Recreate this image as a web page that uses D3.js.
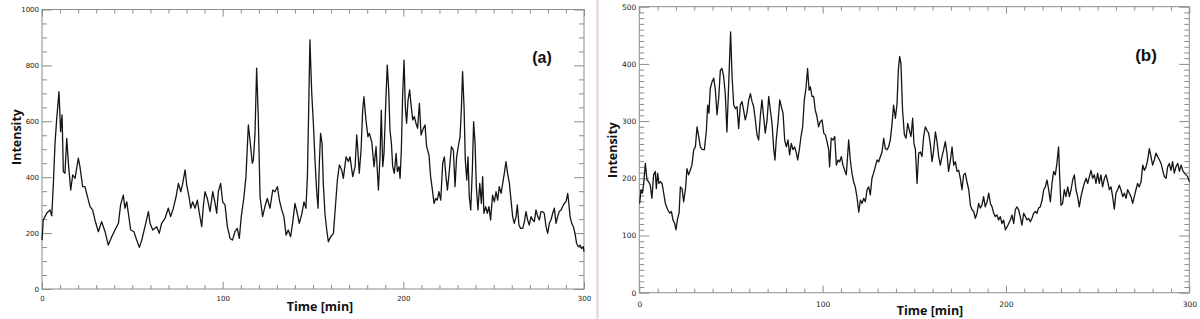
<!doctype html>
<html>
  <head>
    <script src="https://cdnjs.cloudflare.com/ajax/libs/d3/7.8.5/d3.min.js"></script>
    <style>
      body { margin: 0; background: #fff; }
      svg { display: block; }
      .tick text { font-family: "DejaVu Sans", sans-serif; fill: #222; }
      .ttl { font-family: "Open Sans", sans-serif; font-weight: bold; fill: #111; }
      .tag { font-family: "Liberation Sans", Arial, sans-serif; font-weight: bold; fill: #111; }
    </style>
  </head>
  <body>
    <svg id="chart" width="1200" height="319"></svg>
    <script>
        // panel (a)
        var timeA = [0,0.7,2.6,4.4,5.4,6.3,7.2,8.1,9.4,10.3,11.1,11.8,12.7,13.7,14.6,15.9,17.0,18.3,20.1,21.0,22.5,23.8,24.7,26.6,28.0,29.3,31.2,33.0,34.9,36.7,38.6,40.4,42.3,43.5,45.0,45.9,46.9,47.8,49.1,50.9,52.4,53.9,55.2,57.0,58.9,59.8,61.3,63.5,64.9,66.2,68.1,69.9,71.2,72.7,74.2,75.5,76.8,77.9,79.2,80.1,81.4,82.3,83.4,84.7,86.0,87.1,88.4,89.3,90.2,91.5,93.0,94.5,95.8,96.7,97.6,98.9,100.0,101.3,102.6,104.1,105.4,106.8,108.1,109.2,110.3,111.8,112.9,114.2,115.1,116.4,117.0,117.9,118.8,119.7,120.7,122.1,123.4,124.7,126.2,127.7,128.9,130.3,131.4,132.7,133.9,135.1,136.3,137.6,138.7,140.0,141.3,142.4,143.7,145.0,146.1,146.9,147.6,148.3,
            149.3,150.2,151.1,152.0,152.8,153.5,154.2,155.0,155.7,156.6,157.6,158.5,159.8,161.3,162.4,163.5,164.6,165.9,166.8,168.3,169.6,170.5,172.0,173.3,174.2,174.7,175.6,176.6,177.5,178.2,179.3,180.4,181.2,182.5,183.8,184.9,186.2,187.1,187.8,188.6,189.3,190.4,191.1,191.9,192.6,193.4,194.1,195.0,196.0,196.7,197.6,198.2,198.9,199.6,200.4,201.1,201.8,202.6,203.5,204.2,205.2,206.1,207.0,207.9,208.9,209.8,210.7,212.0,212.9,214.2,215.1,216.1,217.0,217.9,218.8,219.7,220.7,221.8,222.7,223.6,224.4,225.5,226.6,227.7,228.6,229.5,230.4,231.4,232.1,232.8,233.6,234.3,235.1,235.8,236.5,237.3,238.2,238.9,239.7,240.4,241.3,242.3,243.2,243.9,244.6,245.6,246.5,247.4,248.3,249.4,250.4,251.3,252.2,253.1,254.1,255.0,255.9,256.8,257.7,258.7,259.6,260.5,261.4,262.4,263.1,264.0,264.9,266.1,267.0,267.9,268.8,269.7,270.7,271.6,272.5,273.4,274.4,275.3,276.2,277.1,278.0,279.0,279.9,280.8,281.7,282.7,283.6,284.5,285.4,286.3,287.3,288.2,289.1,290.0,291.0,291.5,292.3,293.2,294.1,295.0,295.9,296.9,297.8,298.7,299.6,300];
        var intensityA = [175,247,271,283,262,378,521,605,706,563,623,420,414,539,450,354,408,396,468,438,366,366,342,295,283,247,205,241,205,157,187,211,235,301,336,289,312,271,211,205,175,149,175,223,277,235,211,223,199,235,253,289,259,289,330,378,348,378,426,372,330,289,312,289,318,271,223,295,348,324,277,348,306,271,348,378,312,301,223,181,175,205,217,181,259,330,402,587,533,450,462,557,790,617,330,259,295,324,289,354,348,366,318,283,259,193,211,187,235,306,271,235,265,312,289,402,640,891,
            700,593,462,354,289,450,557,521,378,271,211,169,187,199,295,390,444,426,396,473,456,473,402,438,551,509,414,497,640,688,605,545,557,527,438,509,354,473,640,438,485,688,801,712,569,521,438,414,485,420,438,396,497,688,819,652,593,676,712,664,605,617,593,575,664,551,569,587,509,479,402,354,306,324,318,348,318,450,473,402,354,426,509,497,366,473,509,545,640,778,652,462,390,473,330,283,426,599,521,366,283,378,306,402,271,295,271,295,247,336,312,348,318,366,342,378,414,456,414,378,318,259,235,259,301,229,217,217,241,277,247,229,259,247,241,283,259,247,277,277,271,223,199,235,247,271,289,235,259,277,283,295,306,312,342,312,259,235,223,199,163,151,157,145,151,134];

        // panel (b)
        var timeB = [0.2,0.9,1.7,2.4,3.3,4.2,5.1,6.0,6.9,7.8,8.7,9.3,10.0,10.7,11.5,12.4,13.3,14.2,15.5,16.6,17.5,18.4,19.3,20.0,20.9,21.7,22.4,23.3,24.2,25.3,26.0,26.9,27.8,28.7,29.7,30.6,31.5,32.4,33.3,34.4,35.5,36.6,37.3,38.0,38.7,39.7,40.6,41.5,42.4,43.3,44.2,45.1,46.0,46.9,47.8,48.7,49.8,50.6,51.5,52.4,53.3,54.2,55.1,56.0,56.9,57.8,58.7,59.7,60.6,61.5,62.4,63.3,64.2,65.1,66.0,66.9,67.8,68.7,69.7,70.6,71.5,72.4,73.3,74.0,74.7,75.7,76.6,77.5,78.4,79.3,80.2,81.1,82.0,82.9,83.8,84.7,85.7,86.4,87.3,88.2,89.1,90.0,90.9,91.8,92.6,93.3,94.2,95.1,96.0,96.9,97.8,98.7,99.7,100.6,101.5,102.4,103.3,103.8,104.7,105.7,106.6,107.5,108.4,109.3,110.2,111.1,112.0,112.9,113.7,114.2,115.1,116.0,116.9,117.8,118.7,119.7,120.6,121.5,122.4,123.3,124.2,125.1,126.0,126.9,127.8,128.7,129.7,130.6,131.5,132.4,133.3,134.2,135.1,136.0,136.9,137.8,138.7,139.7,140.6,141.3,142.0,142.7,143.6,144.6,145.5,146.4,147.3,148.2,149.1,149.8,
            150.6,151.5,152.4,153.3,154.2,155.1,156.0,156.9,157.8,158.7,159.7,160.6,161.5,162.4,163.3,164.2,165.1,166.0,166.9,167.8,168.7,169.7,170.6,171.5,172.4,173.3,174.2,175.1,176.0,176.9,177.8,178.7,179.7,180.6,181.5,182.4,183.3,184.2,185.1,186.0,186.9,187.8,188.7,189.7,190.6,191.5,192.4,193.3,194.2,195.1,196.0,196.9,197.8,198.7,199.7,200.6,201.5,202.4,203.3,204.2,205.1,206.0,206.9,207.8,208.7,209.7,210.6,211.5,212.4,213.3,214.2,215.1,216.0,216.9,217.8,218.7,219.7,220.6,221.5,222.4,223.3,224.2,225.1,226.0,226.9,227.8,228.7,229.3,230.0,230.9,231.8,232.7,233.7,234.6,235.5,236.4,237.3,238.2,239.1,240.0,240.9,241.8,242.7,243.7,244.6,245.5,246.4,247.3,248.2,249.1,250.0,250.9,251.8,252.7,253.7,254.6,255.5,256.4,257.3,258.2,259.1,260.0,260.9,261.8,262.7,263.7,264.6,265.5,266.4,267.3,268.2,269.1,270.0,270.9,271.8,272.7,273.7,274.6,275.5,276.4,277.3,278.2,279.1,280.0,280.9,281.8,282.7,283.7,284.6,285.5,286.4,287.3,288.2,289.1,290.0,290.9,291.8,292.7,293.7,294.6,295.5,296.4,297.3,298.2,299.1,300];
        var intensityB = [156,180,174,191,226,197,194,188,165,206,212,182,209,191,194,191,174,156,145,139,142,127,121,110,130,139,185,182,159,185,217,206,214,223,250,255,290,273,255,250,250,284,328,314,357,369,375,354,311,340,389,392,378,348,281,360,456,378,328,322,325,287,328,334,319,302,314,337,348,334,325,302,276,267,308,337,308,279,302,343,319,296,252,232,267,299,337,325,314,267,255,267,241,261,250,255,244,232,250,273,290,337,357,392,354,360,343,343,319,308,290,299,302,279,276,264,250,220,270,267,273,223,232,229,238,223,214,206,243,267,232,209,194,185,168,141,162,156,165,159,180,185,171,200,209,220,232,229,238,246,270,252,250,255,267,293,328,305,331,389,413,401,319,276,270,296,284,273,305,261,
            250,191,244,246,238,273,290,284,279,261,229,250,281,264,238,223,238,250,264,244,212,232,255,223,229,212,214,200,180,206,209,194,180,153,145,142,130,139,156,148,153,168,150,159,174,156,150,139,133,136,127,133,121,127,110,115,121,127,136,121,145,150,145,133,118,139,133,127,130,124,130,139,142,139,148,150,162,180,185,197,180,159,191,212,206,226,255,203,153,156,180,168,185,168,180,197,206,180,168,150,168,180,191,200,191,203,214,200,206,191,209,191,206,185,200,206,194,180,185,168,146,174,180,188,180,168,174,165,180,174,168,156,168,180,191,185,194,223,214,220,232,252,238,223,232,244,238,232,226,214,203,200,220,226,214,229,209,220,226,212,223,214,209,206,203,194];

        var xMajorTicks = [0, 100, 200, 300];
        var yMajorTicksA = [0, 200, 400, 600, 800, 1000];
        var yMajorTicksB = [0, 100, 200, 300, 400, 500];

        var svg = d3.select("#chart");

        // separator between the two pictures
        svg.append("line").attr("x1", 596.5).attr("x2", 596.5).attr("y1", 0).attr("y2", 319)
            .style("stroke", "#e2e2e2");
        svg.append("line").attr("x1", 598).attr("x2", 598).attr("y1", 0).attr("y2", 319)
            .style("stroke", "#f3dede").style("stroke-width", 2);

        function drawPanel(p){
            var x = d3.scaleLinear().domain([0, 300]).range([p.left, p.right]);
            var y = d3.scaleLinear().domain([0, p.yMax]).range([p.bottom, p.top]);
            var g = svg.append("g");

            var xMinor = d3.range(0, 301, 10).filter(v => xMajorTicks.indexOf(v) < 0);
            var yMinor = d3.range(0, p.yMax + 1, p.yMinorStep).filter(v => p.yMajor.indexOf(v) < 0);

            function tickAxis(axis, pos, minor, major, minorLen, majorLen, labels){
                var gm = g.append("g").attr("transform", pos)
                    .call(axis.tickValues(minor).tickSize(-minorLen).tickFormat(""));
                var gM = g.append("g").attr("transform", pos)
                    .call(axis.tickValues(major).tickSize(-majorLen).tickPadding(labels ? labels.pad : 0)
                        .tickFormat(labels ? d3.format("d") : ""));
                [gm, gM].forEach(s => {
                    s.select(".domain").remove();
                    s.selectAll("line").style("stroke", "#8c8c8c");
                    s.selectAll("text").style("font-size", p.tickFont + "px");
                });
            }

            tickAxis(d3.axisBottom(x), "translate(0," + p.bottom + ")", xMinor, xMajorTicks, 4, 7, {pad: p.xPad});
            tickAxis(d3.axisTop(x), "translate(0," + p.top + ")", xMinor, xMajorTicks, 4, 7, null);
            tickAxis(d3.axisLeft(y), "translate(" + p.left + ",0)", yMinor, p.yMajor, 5, 10, {pad: 3});
            tickAxis(d3.axisRight(y), "translate(" + p.right + ",0)", yMinor, p.yMajor, 5, 10, null);

            g.append("rect")
                .attr("x", p.left).attr("y", p.top)
                .attr("width", p.right - p.left).attr("height", p.bottom - p.top)
                .style("fill", "none").style("stroke", "#8c8c8c");

            var line = d3.line()
                .x((d, i) => x(p.time[i]))
                .y(d => y(d));

            g.append("path")
                .datum(p.values)
                .attr("d", line)
                .style("fill", "none")
                .style("stroke", "#151515")
                .style("stroke-width", 1.3)
                .style("stroke-linejoin", "round");

            g.append("text").attr("class", "ttl")
                .attr("transform", "translate(" + p.yTitleX + "," + p.yTitleY + ") rotate(-90)")
                .attr("text-anchor", "middle")
                .style("font-size", "12.5px")
                .text("Intensity");

            g.append("text").attr("class", "ttl")
                .attr("x", p.xTitleX).attr("y", p.xTitleY)
                .attr("text-anchor", "middle")
                .style("font-size", "12.5px")
                .text("Time [min]");

            g.append("text").attr("class", "tag")
                .attr("x", p.tagX).attr("y", p.tagY)
                .attr("text-anchor", "middle")
                .style("font-size", p.tagFont + "px")
                .text(p.tag);
        }

        drawPanel({
            time: timeA, values: intensityA, yMax: 1000, yMajor: yMajorTicksA, yMinorStep: 50,
            left: 42, right: 584, top: 9.5, bottom: 289, tickFont: 7, xPad: 7.5,
            yTitleX: 21, yTitleY: 137, xTitleX: 320, xTitleY: 311,
            tag: "(a)", tagX: 542, tagY: 63, tagFont: 16
        });

        drawPanel({
            time: timeB, values: intensityB, yMax: 500, yMajor: yMajorTicksB, yMinorStep: 10,
            left: 639.3, right: 1189.3, top: 6.7, bottom: 292.7, tickFont: 7.5, xPad: 8.5,
            yTitleX: 617, yTitleY: 150, xTitleX: 930, xTitleY: 315,
            tag: "(b)", tagX: 1146, tagY: 61, tagFont: 17
        });
    </script>
  </body>
</html>
